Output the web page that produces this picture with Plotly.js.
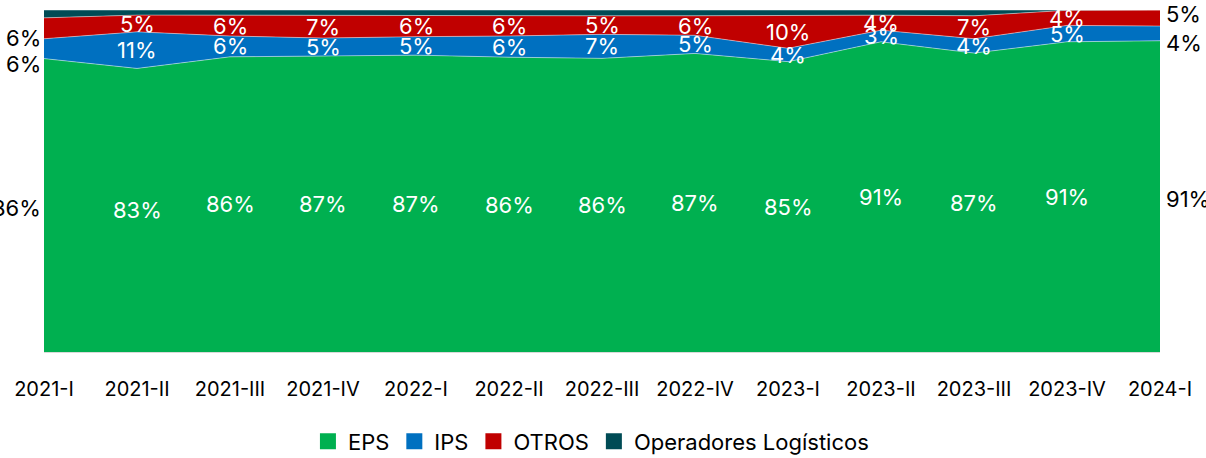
<!DOCTYPE html>
<html><head><meta charset="utf-8">
<script src="https://cdn.plot.ly/plotly-3.0.1.min.js"></script>
<style>html,body{margin:0;padding:0;background:#fff}#chart{width:1206px;height:458px}</style>
</head><body><div id="chart"></div>
<script>
const categories = ["2021-I","2021-II","2021-III","2021-IV","2022-I","2022-II","2022-III","2022-IV","2023-I","2023-II","2023-III","2023-IV","2024-I"];
const eps    = [85.7, 83.0, 86.3, 86.6, 86.8, 86.2, 85.6, 87.3, 84.9, 90.7, 87.4, 90.7, 91.0];
const ips    = [5.8, 10.7, 6.1, 5.2, 5.4, 6.2, 7.0, 5.3, 3.9, 3.4, 4.2, 4.8, 4.3];
const otros  = [6.1, 4.9, 6.1, 6.6, 6.1, 5.8, 5.4, 5.7, 9.6, 4.4, 6.7, 4.4, 4.7];
const oplog  = [2.3, 1.5, 1.5, 1.6, 1.7, 1.8, 1.7, 1.7, 1.6, 1.5, 1.7, 0.1, 0.0];

const FONT = "Inter, 'Open Sans', sans-serif";
const series = [
  {name:"EPS", y:eps, color:"#00B050", label:true},
  {name:"IPS", y:ips, color:"#0070C0", label:true},
  {name:"OTROS", y:otros, color:"#C00000", label:true},
  {name:"Operadores Logísticos", y:oplog, color:"#004B55", label:false}
];

const traces = series.map(s => ({
  type:"scatter", mode:"lines", name:s.name, x:categories, y:s.y,
  stackgroup:"one", groupnorm:"percent", showlegend:false,
  fillcolor:s.color, line:{color:"rgba(255,255,255,0.45)", width:1, shape:"linear"},
  hoverinfo:"skip"
}));
// legend entries with square swatches
series.forEach(s => traces.push({
  type:"scatter", mode:"markers", name:s.name, x:[null], y:[null],
  marker:{symbol:"square", size:16, color:s.color}, showlegend:true, hoverinfo:"skip"
}));

const annotations = [];
const n = categories.length;
const totals = categories.map((_,i)=>series.reduce((a,s)=>a+s.y[i],0));
const cum = new Array(n).fill(0);
const leftShift = {EPS:-3, IPS:-15, OTROS:-10};
const rightShift = {EPS:-3, IPS:-10, OTROS:4};
series.forEach(s => {
  for (let i=0;i<n;i++){
    const lo = cum[i]/totals[i]*100;
    cum[i] += s.y[i];
    const hi = cum[i]/totals[i]*100;
    if (!s.label) continue;
    const a = {x:categories[i], y:(lo+hi)/2, xref:"x", yref:"y",
      text:Math.round(s.y[i])+"%", showarrow:false,
      font:{family:FONT, size:22, color:"#ffffff"}};
    if (i===0){ a.xanchor="right"; a.xshift=-1; a.font.color="#000000"; a.yshift=leftShift[s.name]; }
    else if (i===n-1){ a.xanchor="left"; a.xshift=4; a.font.color="#000000"; a.yshift=rightShift[s.name]; }
    annotations.push(a);
  }
});

const layout = {
  width:1206, height:458,
  margin:{l:44, r:46, t:10, b:106},
  paper_bgcolor:"#ffffff", plot_bgcolor:"#ffffff",
  font:{family:FONT, color:"#000000"},
  showlegend:true,
  legend:{orientation:"h", x:0.49, xanchor:"center", xref:"container", y:0.036, yanchor:"middle", yref:"container",
    traceorder:"normal", font:{family:FONT, size:22, color:"#000000"}, itemwidth:30},
  xaxis:{type:"category", range:[0, n-1], showgrid:false, zeroline:false,
    showline:true, linecolor:"#d9d9d9", linewidth:1, ticks:"outside", ticklen:19, tickcolor:"rgba(0,0,0,0)",
    tickfont:{family:FONT, size:20, color:"#000000"}, automargin:false, fixedrange:true},
  yaxis:{range:[0,100], showgrid:false, zeroline:false, showticklabels:false,
    showline:false, ticks:"", fixedrange:true},
  annotations:annotations
};

Plotly.newPlot("chart", traces, layout, {displayModeBar:false, staticPlot:true});
</script>
</body></html>
